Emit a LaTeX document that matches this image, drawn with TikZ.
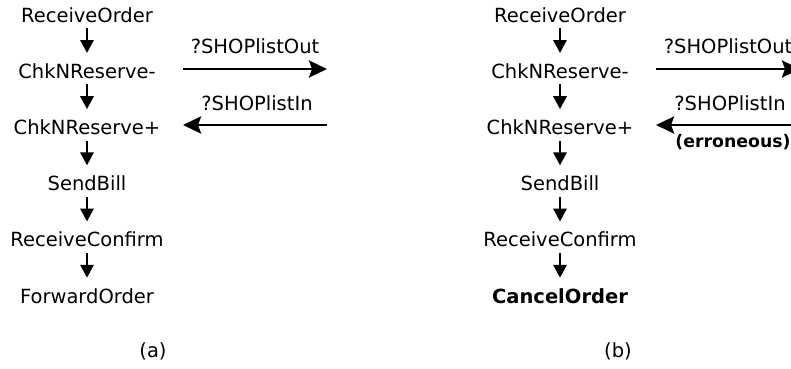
\documentclass[tikz,border=0pt]{standalone}
\usepackage{fontspec}
\setmainfont{DejaVu Sans}
\usetikzlibrary{arrows.meta}

\tikzset{
    flow/.style={-{Triangle[length=13pt, width=13pt]}, line width=2.9pt},
    msg/.style={-{Stealth[length=18pt, width=17pt, inset=3pt]}, line width=2.9pt}
}

\begin{document}
\begin{tikzpicture}[x=1pt, y=-1pt, every node/.style={
    inner sep=0pt,
    anchor=base,
    font=\fontsize{19.5}{23}\selectfont,
    text height=25pt,
    text depth=6pt
}]
    \useasboundingbox (0, 0) rectangle (791, 368);

    \node (receive_order_a) [shift={(87, 22)}] {ReceiveOrder};
    \node (chk_minus_a) [shift={(87, 78.2)}] {ChkNReserve-};
    \node (chk_plus_a) [shift={(87, 134.4)}] {ChkNReserve+};
    \node (send_bill_a) [shift={(87, 190.6)}] {SendBill};
    \node (receive_confirm_a) [shift={(87, 246.8)}] {ReceiveConfirm};
    \node (forward_order_a) [shift={(87, 303)}] {ForwardOrder};
    \node (caption_a) [shift={(153, 357)}] {(a)};

    \node (list_out_a) [shift={(255, 53.3)}] {?SHOPlistOut};
    \node (list_in_a) [shift={(257, 110)}] {?SHOPlistIn};
    \coordinate (out_from_a) at (183, 69);
    \coordinate (out_to_a) at (327, 69);
    \coordinate (in_from_a) at (327, 125);
    \coordinate (in_to_a) at (183, 125);


    \node (receive_order_b) [shift={(560, 22)}] {ReceiveOrder};
    \node (chk_minus_b) [shift={(560, 78.2)}] {ChkNReserve-};
    \node (chk_plus_b) [shift={(560, 134.4)}] {ChkNReserve+};
    \node (send_bill_b) [shift={(560, 190.6)}] {SendBill};
    \node (receive_confirm_b) [shift={(560, 246.8)}] {ReceiveConfirm};
    \node (cancel_order_b) [shift={(560, 303)}] {\bfseries CancelOrder};
    \node (caption_b) [shift={(618, 357)}] {(b)};

    \node (list_out_b) [shift={(728, 53.3)}] {?SHOPlistOut};
    \node (list_in_b) [shift={(730, 110)}] {?SHOPlistIn};
    \node (erroneous_b) [shift={(733, 147.5)}, font=\fontsize{17.3}{20}\selectfont\bfseries] {(erroneous)};
    \coordinate (out_from_b) at (656, 69);
    \coordinate (out_to_b) at (800, 69);
    \coordinate (in_from_b) at (800, 125);
    \coordinate (in_to_b) at (656, 125);


    \draw[flow] (receive_order_a) to (chk_minus_a);
    \draw[flow] (chk_minus_a) to (chk_plus_a);
    \draw[flow] (chk_plus_a) to (send_bill_a);
    \draw[flow] (send_bill_a) to (receive_confirm_a);
    \draw[flow] (receive_confirm_a) to (forward_order_a);
    \draw[msg] (out_from_a) to (out_to_a);
    \draw[msg] (in_from_a) to (in_to_a);

    \draw[flow] (receive_order_b) to (chk_minus_b);
    \draw[flow] (chk_minus_b) to (chk_plus_b);
    \draw[flow] (chk_plus_b) to (send_bill_b);
    \draw[flow] (send_bill_b) to (receive_confirm_b);
    \draw[flow] (receive_confirm_b) to (cancel_order_b);
    \draw[msg] (out_from_b) to (out_to_b);
    \draw[msg] (in_from_b) to (in_to_b);
\end{tikzpicture}
\end{document}
